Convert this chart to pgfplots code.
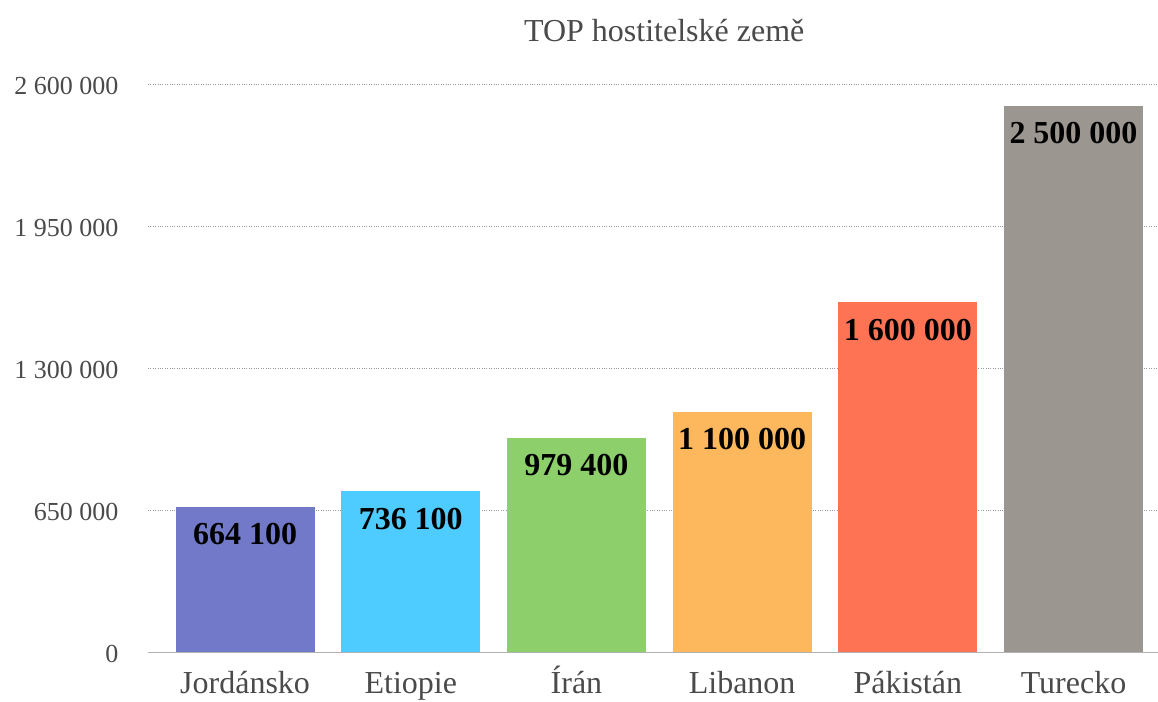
\documentclass[border=0pt]{standalone}
\usepackage{pgfplots}
\pgfplotsset{compat=1.18}
\usepackage{fontspec}
\setmainfont{Liberation Serif}
\definecolor{cJo}{HTML}{7379C9}
\definecolor{cEt}{HTML}{4FCCFF}
\definecolor{cIr}{HTML}{8DCF6A}
\definecolor{cLi}{HTML}{FDB85E}
\definecolor{cPa}{HTML}{FF7355}
\definecolor{cTu}{HTML}{9C9691}
\definecolor{txt}{HTML}{4A4A4A}
\begin{document}
\begin{tikzpicture}
\begin{axis}[
  at={(0,0)}, anchor=south west,
  scale only axis, width=1010pt, height=568pt,
  xmin=-0.586, xmax=5.51, ymin=0, ymax=2600000,
  ybar, bar width=0.84, bar shift=0pt,
  axis x line*=bottom, axis y line*=left,
  x axis line style={draw=black!30, line width=1pt},
  y axis line style={draw=none},
  xtick={0,1,2,3,4,5}, xtick style={draw=none},
  xticklabels={Jordánsko,Etiopie,Írán,Libanon,Pákistán,Turecko},
  xticklabel style={font=\fontsize{32}{34}\selectfont, text=txt, anchor=base, yshift=-37pt},
  scaled y ticks=false,
  ymajorgrids, ytick={0,650000,1300000,1950000,2600000},
  yticklabels={0,650 000,1 300 000,1 950 000,2 600 000},
  ytick style={draw=none},
  yticklabel style={font=\fontsize{26}{28}\selectfont, text=txt, xshift=-26pt, yshift=-2pt},
  grid style={draw=black!40, dotted, line width=0.8pt},
  point meta=explicit symbolic,
  nodes near coords,
  nodes near coords style={anchor=north, yshift=-13pt, font=\fontsize{32}{34}\selectfont\bfseries, text=black},
  clip=false,
]
\addplot[fill=cJo, draw=none] coordinates {(0,664100) [664 100]};
\addplot[fill=cEt, draw=none] coordinates {(1,736100) [736 100]};
\addplot[fill=cIr, draw=none] coordinates {(2,979400) [979 400]};
\addplot[fill=cLi, draw=none] coordinates {(3,1100000) [1 100 000]};
\addplot[fill=cPa, draw=none] coordinates {(4,1600000) [1 600 000]};
\addplot[fill=cTu, draw=none] coordinates {(5,2500000) [2 500 000]};
\node[font=\fontsize{32}{34}\selectfont, text=txt, anchor=base] at (axis cs:2.53,0) [yshift=610pt] {TOP hostitelské země};
\end{axis}
\pgfresetboundingbox
\path[use as bounding box] (-148pt,-49pt) rectangle (1010pt,652pt);
\end{tikzpicture}
\end{document}
